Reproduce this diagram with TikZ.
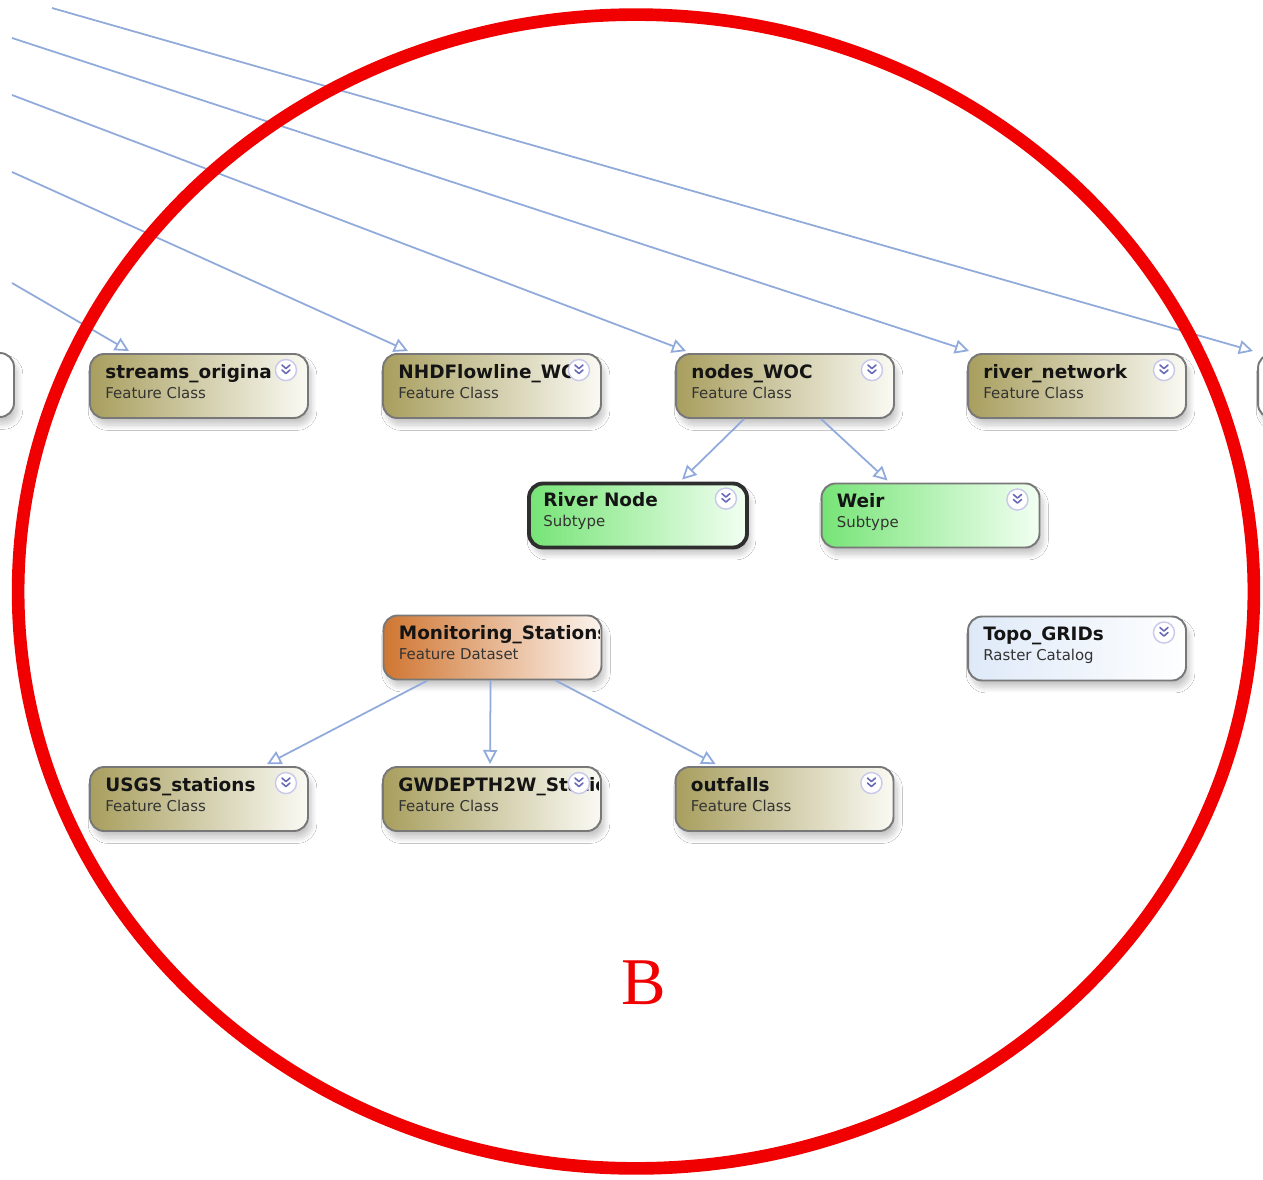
\documentclass[tikz,border=0pt]{standalone}
\usepackage{fontspec}
\setmainfont{DejaVu Sans}
\newfontfamily\letterfont{Liberation Serif}
\usetikzlibrary{arrows.meta,calc,shadows.blur}
\definecolor{linkblue}{RGB}{145,170,220}
\definecolor{boxgray}{RGB}{120,120,120}
\definecolor{khaki}{RGB}{168,158,94}
\definecolor{khakiend}{RGB}{250,250,244}
\definecolor{mint}{RGB}{118,228,118}
\definecolor{mintend}{RGB}{242,255,242}
\definecolor{rust}{RGB}{208,118,50}
\definecolor{rustend}{RGB}{252,244,238}
\definecolor{frost}{RGB}{222,233,248}
\definecolor{chevring}{RGB}{200,200,235}
\definecolor{chevink}{RGB}{105,105,185}
\definecolor{ringred}{RGB}{240,0,0}
\tikzset{
 card/.style={rounded corners=8pt, minimum width=4.36cm, minimum height=1.28cm, inner sep=0pt,
   draw=boxgray, line width=1.1pt,
   blur shadow={shadow xshift=2pt, shadow yshift=-4pt, shadow blur radius=3pt, shadow blur steps=12, shadow opacity=22}},
 fclass/.style={card, left color=khaki, right color=khakiend},
 subtype/.style={card, left color=mint, right color=mintend},
 dataset/.style={card, left color=rust, right color=rustend},
 raster/.style={card, left color=frost, right color=white},
 blank/.style={card, fill=white},
 ttl/.style={font=\fontsize{10.5}{12}\selectfont\bfseries, text=black!92, inner sep=0pt, anchor=base west},
 sub/.style={font=\fontsize{8.5}{10}\selectfont, text=black!80, inner sep=0pt, anchor=base west},
 link/.style={draw=linkblue, line width=1pt, -{Triangle[open, length=8pt, width=8pt]}},
 chevcircle/.style={draw=chevring, fill=white, line width=0.8pt},
 chevmark/.style={draw=chevink, line width=0.9pt, line cap=round, line join=round},
}
\newcommand\cardlabels[3]{%
  \node[ttl] (#1-t) at ($(#1.north west)+(16,25)$) {#2};
  \node[sub] (#1-s) at ($(#1.north west)+(16,45)$) {#3};}
\newcommand\cardchev[1]{%
  \coordinate (#1-c) at ($(#1.north east)+(-23,17)$);
  \draw[chevcircle] (#1-c) circle (6pt);
  \draw[chevmark] ($(#1-c)+(-4,-5)$) -- ($(#1-c)+(0,-1.5)$) -- ($(#1-c)+(4,-5)$);
  \draw[chevmark] ($(#1-c)+(-4,0)$) -- ($(#1-c)+(0,3.5)$) -- ($(#1-c)+(4,0)$);}
\begin{document}
\begin{tikzpicture}[x=0.02cm, y=-0.02cm]
\fill[white] (0,0) rectangle (1263,1179);
\useasboundingbox (0,0) rectangle (1263,1179);
\begin{scope}
\clip (0,0) rectangle (1263,1179);

% cards
\node[blank] (leftcut) at (-95,385) {};
\node[blank] (rightcut) at (1367,386) {};
\node[fclass] (streams) at (199,386) {};
\node[fclass] (nhd) at (492,386) {};
\node[fclass] (woc) at (785,386) {};
\node[fclass] (river) at (1077,386) {};
\node[subtype, draw=black!82, line width=2.2pt] (rnode) at (638,515.5) {};
\node[subtype] (weir) at (930.5,515.5) {};
\node[dataset] (ms) at (492.5,647.5) {};
\node[raster] (topo) at (1077,648.5) {};
\node[fclass] (usgs) at (199,799) {};
\node[fclass] (gw) at (492,799) {};
\node[fclass] (outf) at (784.5,799) {};

% labels
\cardlabels{streams}{streams\_origina}{Feature Class}
\cardlabels{nhd}{NHDFlowline\_WC}{Feature Class}
\cardlabels{woc}{nodes\_WOC}{Feature Class}
\cardlabels{river}{river\_network}{Feature Class}
\cardlabels{rnode}{River Node}{Subtype}
\cardlabels{weir}{Weir}{Subtype}
\cardlabels{topo}{Topo\_GRIDs}{Raster Catalog}
\cardlabels{usgs}{USGS\_stations}{Feature Class}
\cardlabels{outf}{outfalls}{Feature Class}
\begin{scope}
  \clip ($(ms.south west)$) rectangle ($(ms.north east)+(-3,0)$);
  \cardlabels{ms}{Monitoring\_Stations}{Feature Dataset}
\end{scope}
\begin{scope}
  \clip ($(gw.south west)$) rectangle ($(gw.north east)+(-3,0)$);
  \cardlabels{gw}{GWDEPTH2W\_Statio}{Feature Class}
\end{scope}

% chevron icons
\cardchev{streams}
\cardchev{nhd}
\cardchev{woc}
\cardchev{river}
\cardchev{rnode}
\cardchev{weir}
\cardchev{topo}
\cardchev{usgs}
\cardchev{gw}
\cardchev{outf}

% long incoming connectors
\coordinate (f1) at (52,8);
\coordinate (f2) at (12,38);
\coordinate (f3) at (12,95);
\coordinate (f4) at (12,172);
\coordinate (f5) at (12,283);
\draw[link] (f1) -- ($(rightcut.north west)+(-4,-2)$);
\draw[link] (f2) -- ($(river.north west)+(2,-2)$);
\draw[link] (f3) -- ($(woc.north west)+(11,-2)$);
\draw[link] (f4) -- ($(nhd.north west)+(26,-2)$);
\draw[link] (f5) -- ($(streams.north west)+(40,-2)$);

% short connectors
\draw[link] ($(woc.south west)+(69,0)$) -- ($(rnode.north west)+(155,-2)$);
\draw[link] ($(woc.south west)+(146,0)$) -- ($(weir.north west)+(67,-2)$);
\draw[link] ($(ms.south west)+(45,0)$) -- ($(usgs.north west)+(178,-2)$);
\draw[link] ($(ms.south west)+(108,0)$) -- ($(gw.north west)+(108,-2)$);
\draw[link] ($(ms.south west)+(173,0)$) -- ($(outf.north west)+(41,-2)$);

% red ring and letter
\draw[ringred, line width=7.2pt] (636,591.5) ellipse [x radius=12.36cm, y radius=11.54cm];
\node[text=ringred, font=\letterfont\fontsize{38}{40}\selectfont, inner sep=0pt] (letterB) at (644,983) {B};
\end{scope}
\end{tikzpicture}
\end{document}
